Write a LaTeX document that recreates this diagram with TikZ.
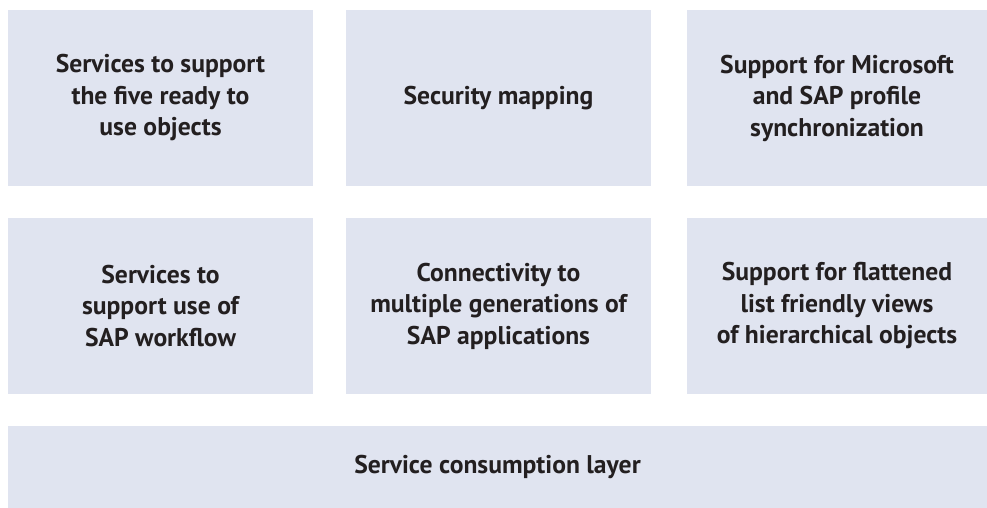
\documentclass[tikz,border=0pt]{standalone}
\usepackage{fontspec}
\setmainfont{PT Sans}

\definecolor{boxfill}{RGB}{224,228,240}
\definecolor{boxtext}{RGB}{35,31,32}

\tikzset{
	block/.style={fill=boxfill, draw=none, inner sep=0pt, text=boxtext,
		font=\fontsize{25.6}{31.5}\selectfont\bfseries, align=center,
		minimum width=305pt, minimum height=176pt},
}

\begin{document}
\begin{tikzpicture}[x=1pt,y=-1pt]
		\useasboundingbox (0,0) rectangle (987,508);
		
		% top row
		\node[block] (objects) at (160.5,98) {Services to support\\the five ready to\\use objects};
		\node[block] (security) at (498.5,98) {Security mapping};
		\node[block, minimum width=300pt] (profile) at (837,98) {Support for Microsoft\\and SAP profile\\synchronization};
		
		% middle row
		\node[block] (workflow) at (160.5,306) {Services to\\support use of\\SAP workflow};
		\node[block] (connect) at (498.5,306) {Connectivity to\\multiple generations of\\SAP applications};
		\node[block, minimum width=300pt] (views) at (837,306) {Support for flattened\\list friendly views\\of hierarchical objects};
		
		% bottom layer
		\node[block, minimum width=979pt, minimum height=82pt] (layer) at (497.5,467) {Service consumption layer};
	\end{tikzpicture}
\end{document}
